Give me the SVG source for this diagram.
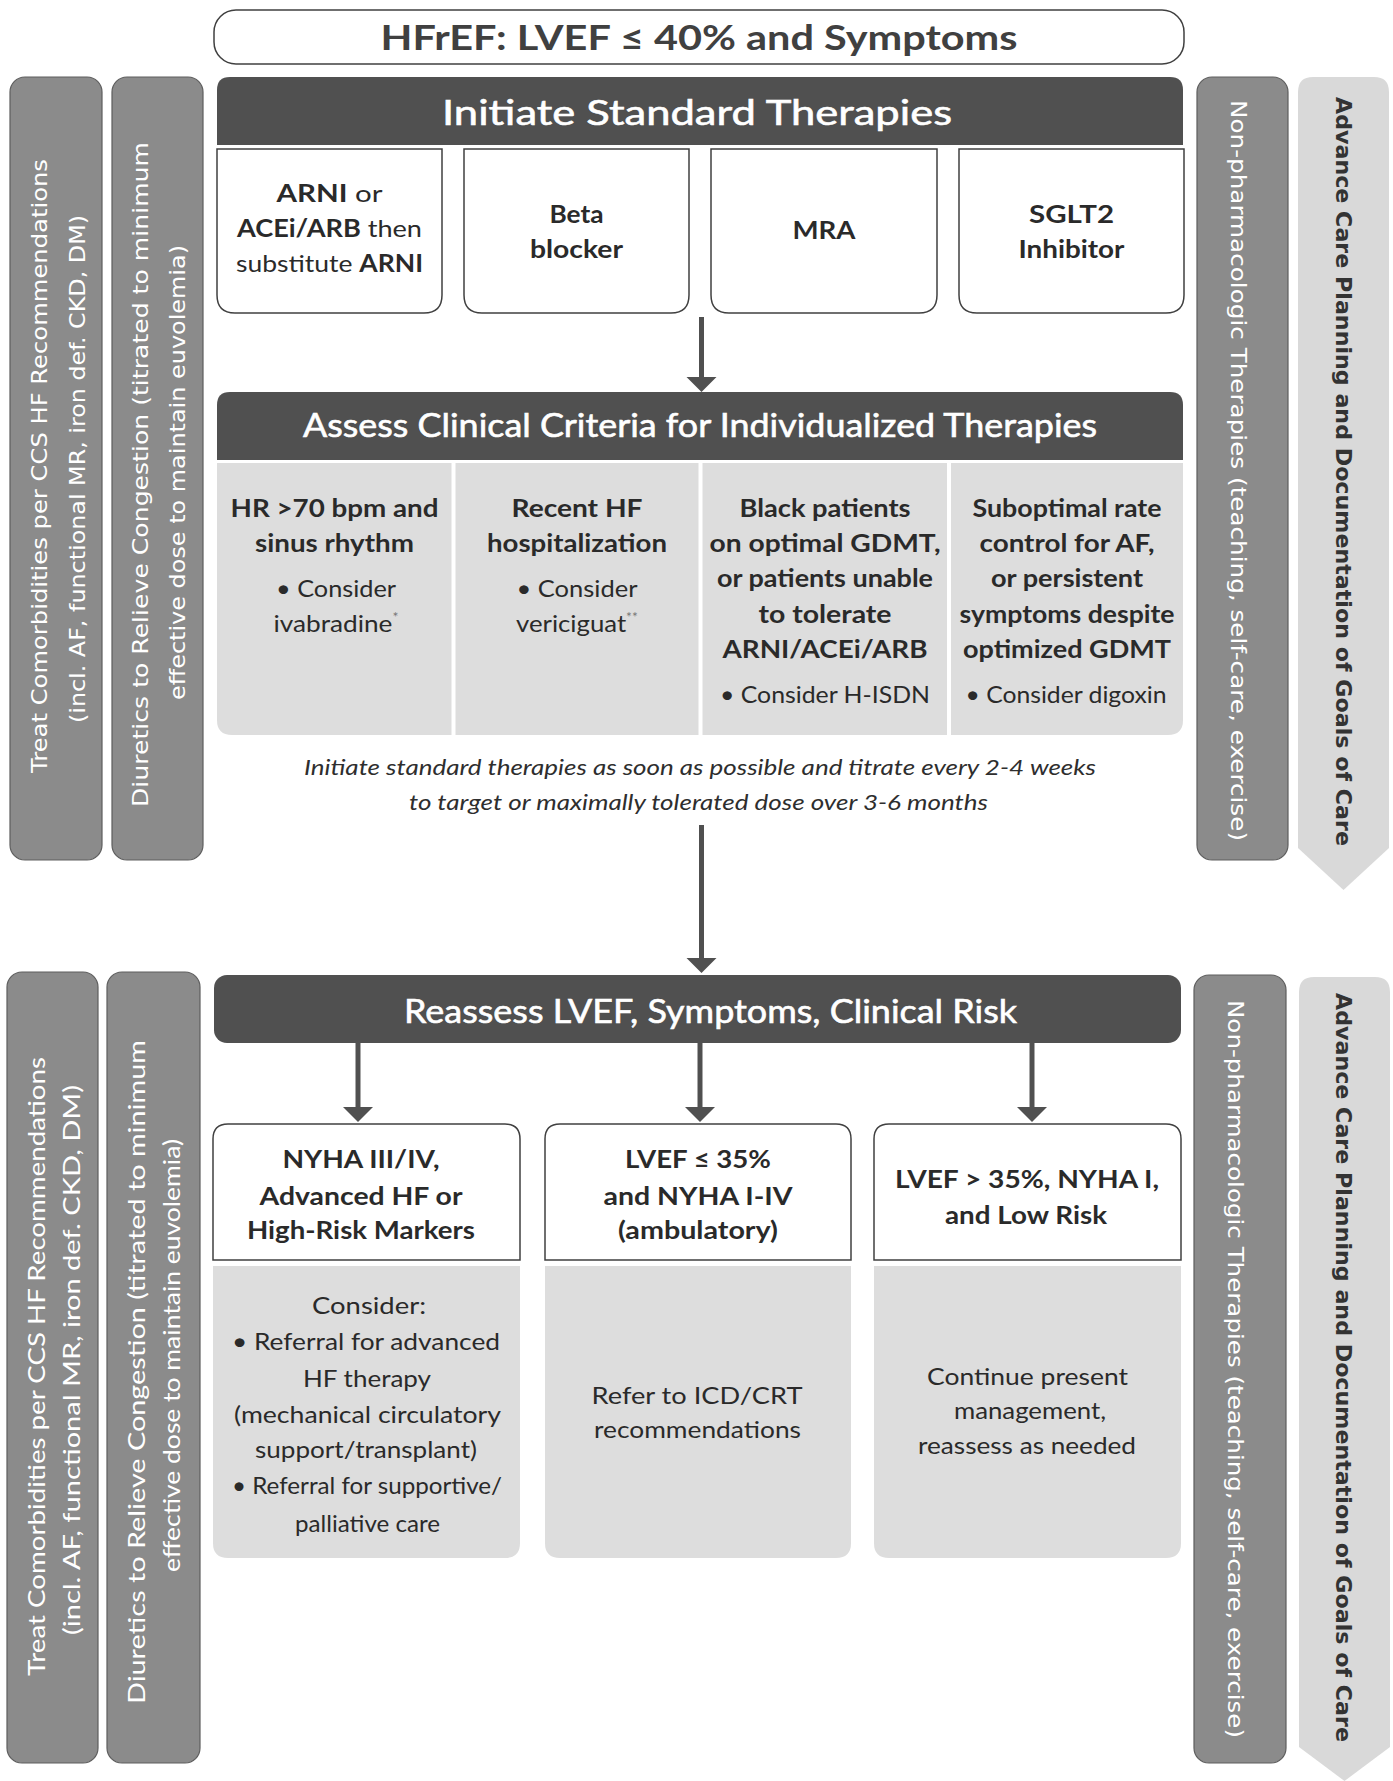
<svg xmlns="http://www.w3.org/2000/svg" width="1393" height="1781" viewBox="0 0 1393 1781">
<style>
.bg{fill:#ffffff}
.side{fill:#8b8b8b;stroke:#5e5e5e;stroke-width:1.2}
.light{fill:#d9d9d9}
.hdr{fill:#505050}
.box{fill:#ffffff;stroke:#404040;stroke-width:1.5}
.panel{fill:#dddddd}
.div{stroke:#ffffff;stroke-width:4}
.t{font-family:Lato,"Open Sans","Liberation Sans",sans-serif;fill:#2a2a2a;font-size:24px}
.c{text-anchor:middle}
.b{font-weight:bold}
.h{font-family:Lato,"Open Sans","Liberation Sans",sans-serif;fill:#ffffff;stroke:#ffffff;stroke-width:0.6}
.it{font-family:Lato,"Open Sans","Liberation Sans",sans-serif;font-style:italic;font-size:21px;fill:#2e2e2e;text-anchor:middle}
.v{font-family:"DejaVu Sans",Verdana,sans-serif;fill:#ffffff;font-size:22px}
.vl{font-family:Lato,"Open Sans","Liberation Sans",sans-serif;fill:#ffffff;font-size:23px}
.vb{font-family:"DejaVu Sans",Verdana,sans-serif;fill:#333333;font-size:22px;font-weight:bold}
.sup{font-size:13px;fill:#777777}
.conn line{stroke:#505050;stroke-width:5}
</style>
<defs>
<marker id="ah" markerUnits="userSpaceOnUse" markerWidth="16" markerHeight="32" viewBox="0 -16 16 32" refX="0" refY="0" orient="auto">
<path d="M0,-15 L15,0 L0,15 Z" fill="#505050"/>
</marker>
</defs>
<rect class="bg" x="0" y="0" width="1393" height="1781"/>

<g id="title">
<rect class="box" x="214" y="10" width="970" height="54" rx="22"/>
<text class="t b c" x="699" y="50" style="fill:#404040;font-size:35px" textLength="637" lengthAdjust="spacingAndGlyphs">HFrEF: LVEF ≤ 40% and Symptoms</text>
</g>

<g id="side-upper-comorbidities">
<rect class="side" x="10" y="77" width="92" height="783" rx="15"/>
<text class="v" transform="translate(47,773) rotate(-90)" textLength="614" lengthAdjust="spacingAndGlyphs">Treat Comorbidities per CCS HF Recommendations</text>
<text class="v" transform="translate(85,723) rotate(-90)" textLength="508" lengthAdjust="spacingAndGlyphs">(incl. AF, functional MR, iron def. CKD, DM)</text>
</g>
<g id="side-upper-diuretics">
<rect class="side" x="112" y="77" width="91" height="783" rx="15"/>
<text class="v" transform="translate(148,807) rotate(-90)" textLength="665" lengthAdjust="spacingAndGlyphs">Diuretics to Relieve Congestion (titrated to minimum</text>
<text class="v" transform="translate(185,700) rotate(-90)" textLength="455" lengthAdjust="spacingAndGlyphs">effective dose to maintain euvolemia)</text>
</g>
<g id="side-upper-nonpharm">
<rect class="side" x="1197" y="77" width="91" height="783" rx="15"/>
<text class="v" transform="translate(1231,100) rotate(90)" textLength="741" lengthAdjust="spacingAndGlyphs">Non-pharmacologic Therapies (teaching, self-care, exercise)</text>
</g>
<g id="side-upper-acp">
<path class="light" d="M1298,92 Q1298,77 1313,77 L1374,77 Q1389,77 1389,92 L1389,848 L1343.5,890 L1298,848 Z"/>
<text class="vb" transform="translate(1336,97) rotate(90)" textLength="749" lengthAdjust="spacingAndGlyphs">Advance Care Planning and Documentation of Goals of Care</text>
</g>

<g id="initiate">
<path class="hdr" d="M217,145 L217,90 Q217,77 230,77 L1170,77 Q1183,77 1183,90 L1183,145 Z"/>
<text class="h c" x="697" y="125" style="font-size:35px" textLength="510" lengthAdjust="spacingAndGlyphs">Initiate Standard Therapies</text>
</g>

<g id="arni">
<path class="box" d="M217,149 L442,149 L442,295 Q442,313 424,313 L235,313 Q217,313 217,295 Z"/>
<text class="t c" x="329.5" y="202" textLength="106" lengthAdjust="spacingAndGlyphs"><tspan class="b">ARNI</tspan> or</text>
<text class="t c" x="329.5" y="237" textLength="185" lengthAdjust="spacingAndGlyphs"><tspan class="b">ACEi/ARB</tspan> then</text>
<text class="t c" x="329.5" y="272" textLength="187" lengthAdjust="spacingAndGlyphs">substitute <tspan class="b">ARNI</tspan></text>
</g>
<g id="beta">
<path class="box" d="M464,149 L689,149 L689,295 Q689,313 671,313 L482,313 Q464,313 464,295 Z"/>
<text class="t c b" x="576.5" y="223" textLength="54" lengthAdjust="spacingAndGlyphs">Beta</text>
<text class="t c b" x="576.5" y="258" textLength="93" lengthAdjust="spacingAndGlyphs">blocker</text>
</g>
<g id="mra">
<path class="box" d="M711,149 L937,149 L937,295 Q937,313 919,313 L729,313 Q711,313 711,295 Z"/>
<text class="t c b" x="824" y="239" textLength="63" lengthAdjust="spacingAndGlyphs">MRA</text>
</g>
<g id="sglt2">
<path class="box" d="M959,149 L1184,149 L1184,295 Q1184,313 1166,313 L977,313 Q959,313 959,295 Z"/>
<text class="t c b" x="1071.5" y="223" textLength="85" lengthAdjust="spacingAndGlyphs">SGLT2</text>
<text class="t c b" x="1071.5" y="258" textLength="106" lengthAdjust="spacingAndGlyphs">Inhibitor</text>
</g>

<g id="assess">
<path class="hdr" d="M217,460 L217,405 Q217,392 230,392 L1170,392 Q1183,392 1183,405 L1183,460 Z"/>
<text class="h c" x="700" y="437" style="font-size:32px" textLength="794" lengthAdjust="spacingAndGlyphs">Assess Clinical Criteria for Individualized Therapies</text>
<path class="panel" d="M217,463 L1183,463 L1183,720 Q1183,735 1168,735 L232,735 Q217,735 217,720 Z"/>
<line class="div" x1="453.5" y1="463" x2="453.5" y2="735"/>
<line class="div" x1="700.5" y1="463" x2="700.5" y2="735"/>
<line class="div" x1="949" y1="463" x2="949" y2="735"/>
</g>
<g id="col-hr">
<text class="t c b" x="334.5" y="517" textLength="208" lengthAdjust="spacingAndGlyphs">HR &gt;70 bpm and</text>
<text class="t c b" x="334.5" y="552" textLength="159" lengthAdjust="spacingAndGlyphs">sinus rhythm</text>
<text class="t c" x="336" y="597" textLength="120" lengthAdjust="spacingAndGlyphs">• Consider</text>
<text class="t c" x="336" y="632" textLength="125" lengthAdjust="spacingAndGlyphs">ivabradine<tspan class="sup" dy="-10">*</tspan></text>
</g>
<g id="col-hosp">
<text class="t c b" x="577" y="517" textLength="131" lengthAdjust="spacingAndGlyphs">Recent HF</text>
<text class="t c b" x="577" y="552" textLength="180" lengthAdjust="spacingAndGlyphs">hospitalization</text>
<text class="t c" x="577" y="597" textLength="121" lengthAdjust="spacingAndGlyphs">• Consider</text>
<text class="t c" x="577" y="632" textLength="122" lengthAdjust="spacingAndGlyphs">vericiguat<tspan class="sup" dy="-10">**</tspan></text>
</g>
<g id="col-black">
<text class="t c b" x="825" y="517" textLength="171" lengthAdjust="spacingAndGlyphs">Black patients</text>
<text class="t c b" x="825" y="552" textLength="231" lengthAdjust="spacingAndGlyphs">on optimal GDMT,</text>
<text class="t c b" x="825" y="587" textLength="216" lengthAdjust="spacingAndGlyphs">or patients unable</text>
<text class="t c b" x="825" y="623" textLength="133" lengthAdjust="spacingAndGlyphs">to tolerate</text>
<text class="t c b" x="825" y="658" textLength="205" lengthAdjust="spacingAndGlyphs">ARNI/ACEi/ARB</text>
<text class="t c" x="825" y="703" textLength="210" lengthAdjust="spacingAndGlyphs">• Consider H-ISDN</text>
</g>
<g id="col-af">
<text class="t c b" x="1067" y="517" textLength="189" lengthAdjust="spacingAndGlyphs">Suboptimal rate</text>
<text class="t c b" x="1067" y="552" textLength="175" lengthAdjust="spacingAndGlyphs">control for AF,</text>
<text class="t c b" x="1067" y="587" textLength="152" lengthAdjust="spacingAndGlyphs">or persistent</text>
<text class="t c b" x="1067" y="623" textLength="215" lengthAdjust="spacingAndGlyphs">symptoms despite</text>
<text class="t c b" x="1067" y="658" textLength="208" lengthAdjust="spacingAndGlyphs">optimized GDMT</text>
<text class="t c" x="1066" y="703" textLength="201" lengthAdjust="spacingAndGlyphs">• Consider digoxin</text>
</g>

<g id="note">
<text class="it" x="700" y="775" textLength="792" lengthAdjust="spacingAndGlyphs">Initiate standard therapies as soon as possible and titrate every 2-4 weeks</text>
<text class="it" x="698.5" y="810" textLength="579" lengthAdjust="spacingAndGlyphs">to target or maximally tolerated dose over 3-6 months</text>
</g>

<g id="side-lower-comorbidities">
<rect class="side" x="7" y="972" width="91" height="791" rx="15"/>
<text class="vl" transform="translate(45,1676) rotate(-90)" textLength="619" lengthAdjust="spacingAndGlyphs">Treat Comorbidities per CCS HF Recommendations</text>
<text class="vl" transform="translate(80,1635) rotate(-90)" textLength="550" lengthAdjust="spacingAndGlyphs">(incl.  AF,  functional MR, iron def. CKD, DM)</text>
</g>
<g id="side-lower-diuretics">
<rect class="side" x="107" y="972" width="93" height="791" rx="15"/>
<text class="vl" transform="translate(145,1704) rotate(-90)" textLength="664" lengthAdjust="spacingAndGlyphs">Diuretics to Relieve Congestion (titrated to minimum</text>
<text class="vl" transform="translate(180,1572) rotate(-90)" textLength="433" lengthAdjust="spacingAndGlyphs">effective dose to maintain euvolemia)</text>
</g>
<g id="side-lower-nonpharm">
<rect class="side" x="1194" y="975" width="92" height="788" rx="15"/>
<text class="v" transform="translate(1228,1000) rotate(90)" textLength="738" lengthAdjust="spacingAndGlyphs">Non-pharmacologic Therapies (teaching, self-care, exercise)</text>
</g>
<g id="side-lower-acp">
<path class="light" d="M1299,992 Q1299,977 1314,977 L1375,977 Q1390,977 1390,992 L1390,1747 L1344.5,1781 L1299,1747 Z"/>
<text class="vb" transform="translate(1336,993) rotate(90)" textLength="749" lengthAdjust="spacingAndGlyphs">Advance Care Planning and Documentation of Goals of Care</text>
</g>

<g id="reassess">
<rect class="hdr" x="214" y="975" width="967" height="68" rx="13"/>
<text class="h" x="404" y="1023" style="font-size:32px" textLength="613" lengthAdjust="spacingAndGlyphs">Reassess LVEF, Symptoms, Clinical Risk</text>
</g>

<g id="nyha">
<path class="box" d="M213,1260 L213,1139 Q213,1124 228,1124 L505,1124 Q520,1124 520,1139 L520,1260 Z"/>
<text class="t c b" x="361" y="1168" textLength="157" lengthAdjust="spacingAndGlyphs">NYHA III/IV,</text>
<text class="t c b" x="361" y="1205" textLength="203" lengthAdjust="spacingAndGlyphs">Advanced HF or</text>
<text class="t c b" x="361" y="1239" textLength="228" lengthAdjust="spacingAndGlyphs">High-Risk Markers</text>
<path class="panel" d="M213,1266 L520,1266 L520,1543 Q520,1558 505,1558 L228,1558 Q213,1558 213,1543 Z"/>
<text class="t c" x="369" y="1314" textLength="114" lengthAdjust="spacingAndGlyphs">Consider:</text>
<text class="t c" x="366" y="1350" textLength="268" lengthAdjust="spacingAndGlyphs">• Referral for advanced</text>
<text class="t c" x="367" y="1387" textLength="128" lengthAdjust="spacingAndGlyphs">HF therapy</text>
<text class="t c" x="367.5" y="1423" textLength="267" lengthAdjust="spacingAndGlyphs">(mechanical circulatory</text>
<text class="t c" x="366" y="1458" textLength="222" lengthAdjust="spacingAndGlyphs">support/transplant)</text>
<text class="t c" x="367" y="1494" textLength="270" lengthAdjust="spacingAndGlyphs">• Referral for supportive/</text>
<text class="t c" x="367.5" y="1532" textLength="145" lengthAdjust="spacingAndGlyphs">palliative care</text>
</g>
<g id="lvef35">
<path class="box" d="M545,1260 L545,1139 Q545,1124 560,1124 L836,1124 Q851,1124 851,1139 L851,1260 Z"/>
<text class="t c b" x="698" y="1168" textLength="146" lengthAdjust="spacingAndGlyphs">LVEF ≤ 35%</text>
<text class="t c b" x="698" y="1205" textLength="189" lengthAdjust="spacingAndGlyphs">and NYHA I-IV</text>
<text class="t c b" x="698" y="1239" textLength="160" lengthAdjust="spacingAndGlyphs">(ambulatory)</text>
<path class="panel" d="M545,1266 L851,1266 L851,1543 Q851,1558 836,1558 L560,1558 Q545,1558 545,1543 Z"/>
<text class="t c" x="697" y="1404" textLength="211" lengthAdjust="spacingAndGlyphs">Refer to ICD/CRT</text>
<text class="t c" x="697.5" y="1438" textLength="207" lengthAdjust="spacingAndGlyphs">recommendations</text>
</g>
<g id="lowrisk">
<path class="box" d="M874,1260 L874,1139 Q874,1124 889,1124 L1166,1124 Q1181,1124 1181,1139 L1181,1260 Z"/>
<text class="t c b" x="1027" y="1188" textLength="264" lengthAdjust="spacingAndGlyphs">LVEF &gt; 35%, NYHA I,</text>
<text class="t c b" x="1026" y="1224" textLength="162" lengthAdjust="spacingAndGlyphs">and Low Risk</text>
<path class="panel" d="M874,1266 L1181,1266 L1181,1543 Q1181,1558 1166,1558 L889,1558 Q874,1558 874,1543 Z"/>
<text class="t c" x="1027.5" y="1385" textLength="201" lengthAdjust="spacingAndGlyphs">Continue present</text>
<text class="t c" x="1030" y="1419" textLength="152" lengthAdjust="spacingAndGlyphs">management,</text>
<text class="t c" x="1027" y="1454" textLength="218" lengthAdjust="spacingAndGlyphs">reassess as needed</text>
</g>

<g id="connectors" class="conn">
<line x1="701.5" y1="317" x2="701.5" y2="377" marker-end="url(#ah)"/>
<line x1="701.5" y1="825" x2="701.5" y2="958" marker-end="url(#ah)"/>
<line x1="358" y1="1043" x2="358" y2="1107" marker-end="url(#ah)"/>
<line x1="700" y1="1043" x2="700" y2="1107" marker-end="url(#ah)"/>
<line x1="1032" y1="1043" x2="1032" y2="1107" marker-end="url(#ah)"/>
</g>
</svg>
